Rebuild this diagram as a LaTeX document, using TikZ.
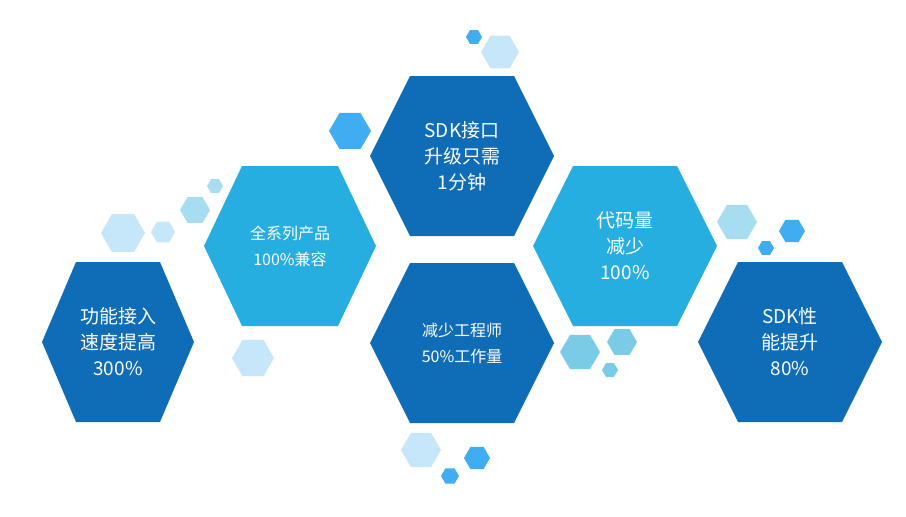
\documentclass[tikz,border=0pt]{standalone}
\usepackage{fontspec}
\setmainfont{Noto Sans CJK SC}
\begin{document}
\begin{tikzpicture}[x=1pt,y=-1pt,
  lbl/.style={text=white,align=center,font=\fontsize{19}{26}\selectfont},
  lbls/.style={text=white,align=center,font=\fontsize{16}{26}\selectfont}]
\definecolor{dk}{HTML}{0F6CB6}
\definecolor{lt}{HTML}{27AEE0}
\definecolor{bl}{HTML}{40ACF2}
\definecolor{pb}{HTML}{C6E6FA}
\definecolor{pc}{HTML}{A6DDF1}
\definecolor{cy}{HTML}{7ACCE6}
\useasboundingbox (0,0) rectangle (906,517);
\fill[white] (0,0) rectangle (906,517);
% big hex: cx cy a b c color
\newcommand\bighex[6]{\fill[#6] ({#1-#3},#2) -- ({#1-#5},{#2-#4}) -- ({#1+#5},{#2-#4}) -- ({#1+#3},#2) -- ({#1+#5},{#2+#4}) -- ({#1-#5},{#2+#4}) -- cycle;}
\newcommand\smhex[4]{\bighex{#1}{#2}{#3}{0.86*#3}{0.5*#3}{#4}}
\bighex{118}{342}{76}{80}{42}{dk}
\bighex{290}{246}{86}{80}{48}{lt}
\bighex{462}{156}{92}{80}{52}{dk}
\bighex{462}{343}{92}{80}{52}{dk}
\bighex{625}{246}{92}{80}{52}{lt}
\bighex{790}{342}{92}{80}{52}{dk}
\smhex{474}{37}{8}{bl}
\smhex{500}{52}{19}{pb}
\smhex{350}{131}{21}{bl}
\smhex{215}{186}{8}{pc}
\smhex{195}{210}{15}{pc}
\smhex{123}{233}{22}{pb}
\smhex{163}{232}{12}{pb}
\smhex{253}{358}{21}{pb}
\smhex{737}{222}{20}{pc}
\smhex{792}{231}{13}{bl}
\smhex{766}{248}{8}{bl}
\smhex{580}{352}{20}{cy}
\smhex{622}{342}{15}{cy}
\smhex{610}{370}{8}{cy}
\smhex{421}{450}{20}{pb}
\smhex{477}{458}{13}{bl}
\smhex{450}{476}{9}{bl}
\node[lbl] (h1) at (118,342) {功能接入\\速度提高\\300\%};
\node[lbls] (h2) at (290,246) {全系列产品\\100\%兼容};
\node[lbl] (h3) at (462,156) {SDK接口\\升级只需\\1分钟};
\node[lbls] (h4) at (462,343) {减少工程师\\50\%工作量};
\node[lbl] (h5) at (625,246) {代码量\\减少\\100\%};
\node[lbl] (h6) at (790,342) {SDK性\\能提升\\80\%};
\end{tikzpicture}
\end{document}
